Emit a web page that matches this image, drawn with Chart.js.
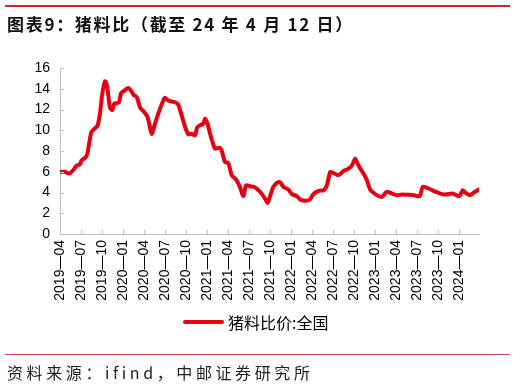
<!DOCTYPE html>
<html>
<head>
<meta charset="utf-8">
<script src="https://cdn.jsdelivr.net/npm/chart.js@4.4.1/dist/chart.umd.min.js"></script>
<style>
  html, body { margin: 0; padding: 0; background: #fff; }
  #wrap { position: relative; width: 515px; height: 386px; overflow: hidden; background: #fff; }
  #chart { position: absolute; left: 0; top: 0; }
  .rule-top { position: absolute; left: 5px; top: 5px; width: 505px; height: 2px; background: #d71f26; }
  .title { position: absolute; left: 7px; top: 11px; font: bold 17px "Noto Sans CJK SC", sans-serif; color: #111; white-space: nowrap; letter-spacing: 1.7px; }
  .legend { position: absolute; left: 183px; top: 312px; height: 20px; display: flex; align-items: center; font: 16px "Noto Sans CJK SC", sans-serif; color: #000; white-space: nowrap; }
  .legend .swatch { width: 41px; height: 4px; background: #e60012; border-radius: 2px; margin-right: 4px; }
  .rule-bottom { position: absolute; left: 5px; top: 354px; width: 505px; height: 1px; background: #d0464a; }
  .source { position: absolute; left: 7px; top: 360px; font: 16px "Noto Sans CJK SC", sans-serif; color: #222; letter-spacing: 3.6px; white-space: nowrap; }
</style>
</head>
<body>
<div id="wrap">
  <canvas id="chart" width="515" height="386"></canvas>
  <div class="rule-top"></div>
  <div class="title">图表9：猪料比（截至 24 年 4 月 12 日）</div>
  <div class="legend"><span class="swatch"></span><span>猪料比价:全国</span></div>
  <div class="rule-bottom"></div>
  <div class="source">资料来源：ifind，中邮证券研究所</div>
</div>
<script>
// ---- data ----
const seriesName = "猪料比价:全国";
const dates = [
  "2019-04-01","2019-04-22","2019-05-10","2019-05-28","2019-06-13","2019-06-26",
  "2019-07-04","2019-07-20","2019-07-29","2019-08-07","2019-08-16","2019-09-01",
  "2019-09-12","2019-09-22","2019-10-02","2019-10-14","2019-10-21","2019-10-28",
  "2019-11-05","2019-11-15","2019-11-24","2019-12-04","2019-12-14","2019-12-23",
  "2020-01-07","2020-01-24","2020-02-05","2020-02-15","2020-02-29","2020-03-14",
  "2020-04-02","2020-04-16","2020-05-04","2020-05-18","2020-06-09","2020-06-28",
  "2020-07-01","2020-07-15","2020-07-30","2020-08-14","2020-08-28","2020-09-12",
  "2020-09-27","2020-10-11","2020-10-25","2020-11-09","2020-11-19","2020-12-04",
  "2020-12-15","2020-12-22","2021-01-02","2021-01-14","2021-01-25","2021-02-05",
  "2021-02-23","2021-03-04","2021-03-18","2021-04-02","2021-04-16","2021-05-05",
  "2021-05-22","2021-06-06","2021-06-18","2021-07-05","2021-07-27","2021-08-18",
  "2021-09-09","2021-09-20","2021-10-01","2021-10-15","2021-10-30","2021-11-13",
  "2021-11-28","2021-12-19","2022-01-04","2022-01-26","2022-02-09","2022-03-01",
  "2022-03-22","2022-04-06","2022-04-28","2022-05-20","2022-06-04","2022-06-18",
  "2022-07-02","2022-07-24","2022-08-15","2022-09-06","2022-09-21","2022-10-05",
  "2022-10-19","2022-11-10","2022-11-25","2022-12-09","2022-12-28","2023-01-16",
  "2023-02-01","2023-02-18","2023-03-13","2023-04-04","2023-04-25","2023-05-16",
  "2023-06-16","2023-07-01","2023-07-13","2023-07-25","2023-08-13","2023-09-10",
  "2023-10-10","2023-11-01","2023-12-01","2023-12-13","2024-01-01","2024-01-16",
  "2024-01-28","2024-02-16","2024-03-01","2024-03-25"
];
const values = [
  6.00, 6.00, 5.82, 6.14, 6.60, 6.72,
  7.10, 7.36, 7.74, 8.86, 9.82, 10.20,
  10.46, 11.58, 13.50, 14.72, 14.46, 13.50,
  12.20, 11.96, 12.60, 12.60, 12.70, 13.56,
  13.82, 14.08, 13.82, 13.44, 13.18, 12.20,
  11.74, 11.26, 9.66, 10.62, 12.06, 13.10,
  13.12, 12.86, 12.76, 12.70, 12.48, 11.42,
  10.30, 9.60, 9.66, 9.50, 10.30, 10.52,
  10.62, 11.10, 10.68, 9.66, 8.86, 8.22,
  8.32, 8.00, 6.94, 6.84, 5.66, 5.25,
  4.54, 3.65, 4.70, 4.60, 4.49, 4.07,
  3.42, 3.00, 3.70, 4.54, 4.93, 5.00,
  4.54, 4.29, 3.84, 3.65, 3.33, 3.20,
  3.33, 3.84, 4.16, 4.22, 4.70, 5.98,
  5.88, 5.66, 6.07, 6.30, 6.62, 7.26,
  6.62, 5.82, 5.18, 4.29, 3.90, 3.65,
  3.60, 4.06, 3.90, 3.74, 3.80, 3.78,
  3.74, 3.65, 3.70, 4.54, 4.45, 4.16,
  3.90, 3.80, 3.90, 3.80, 3.65, 4.22,
  3.97, 3.74, 3.97, 4.29
];
const tickLabels = [
  "2019-04","2019-07","2019-10","2020-01","2020-04","2020-07","2020-10",
  "2021-01","2021-04","2021-07","2021-10","2022-01","2022-04","2022-07",
  "2022-10","2023-01","2023-04","2023-07","2023-10","2024-01"
];
const yTicks = [0, 2, 4, 6, 8, 10, 12, 14, 16];

// ---- helpers: convert a date to months since the first tick ----
const base = tickLabels[0].split("-").map(Number);
function monthIndex(str) {
  const p = str.split("-").map(Number);
  const y = p[0], m = p[1], d = p[2] || 1;
  const dim = new Date(y, m, 0).getDate();
  return (y - base[0]) * 12 + (m - base[1]) + (d - 1) / dim;
}
const points = dates.map((d, i) => ({ x: monthIndex(d), y: values[i] }));
const tickPos = tickLabels.map(monthIndex);
const labelAt = {};
tickLabels.forEach((t, i) => { labelAt[tickPos[i].toFixed(3)] = t.replace("-", "—"); });

const axisColor = "#bfbfbf";
const innerTicks = {
  id: "innerTicks",
  afterDraw(chart) {
    const ctx = chart.ctx, xs = chart.scales.x, ys = chart.scales.y;
    const a = chart.chartArea;
    ctx.save();
    ctx.strokeStyle = axisColor;
    ctx.lineWidth = 1;
    ctx.beginPath();
    ys.ticks.forEach(t => {
      const py = Math.round(ys.getPixelForValue(t.value)) + 0.5;
      ctx.moveTo(a.left, py); ctx.lineTo(a.left + 4, py);
    });
    xs.ticks.forEach(t => {
      const px = Math.round(xs.getPixelForValue(t.value)) + 0.5;
      ctx.moveTo(px, a.bottom); ctx.lineTo(px, a.bottom - 4);
    });
    ctx.stroke();
    ctx.restore();
  }
};

new Chart(document.getElementById("chart"), {
  type: "line",
  data: {
    datasets: [{
      label: seriesName,
      data: points,
      borderColor: "#e60012",
      backgroundColor: "#e60012",
      borderWidth: 4,
      pointRadius: 0,
      tension: 0.25,
      borderJoinStyle: "round",
      borderCapStyle: "round",
      fill: false
    }]
  },
  options: {
    responsive: false,
    animation: false,
    devicePixelRatio: 1,
    layout: { padding: { top: 68, right: 36, bottom: 0, left: 0 } },
    plugins: { legend: { display: false }, tooltip: { enabled: false } },
    scales: {
      x: {
        type: "linear",
        min: 0,
        max: 59.8,
        grid: { display: false, drawTicks: false },
        border: { display: true, color: axisColor, width: 1 },
        afterFit(scale) { scale.height = 152; },
        afterBuildTicks(scale) { scale.ticks = tickPos.map(v => ({ value: v })); },
        ticks: {
          autoSkip: false,
          minRotation: 90,
          maxRotation: 90,
          padding: 6,
          color: "#000",
          font: { family: "Liberation Sans, Arial, sans-serif", size: 14 },
          callback: (v) => labelAt[Number(v).toFixed(3)] || ""
        }
      },
      y: {
        min: 0,
        max: 16,
        grid: { display: false, drawTicks: false },
        border: { display: true, color: axisColor, width: 1 },
        afterFit(scale) { scale.width = 60; },
        afterBuildTicks(scale) { scale.ticks = yTicks.map(v => ({ value: v })); },
        ticks: {
          padding: 10,
          color: "#000",
          font: { family: "Liberation Sans, Arial, sans-serif", size: 14 }
        }
      }
    }
  },
  plugins: [innerTicks]
});
</script>
</body>
</html>
